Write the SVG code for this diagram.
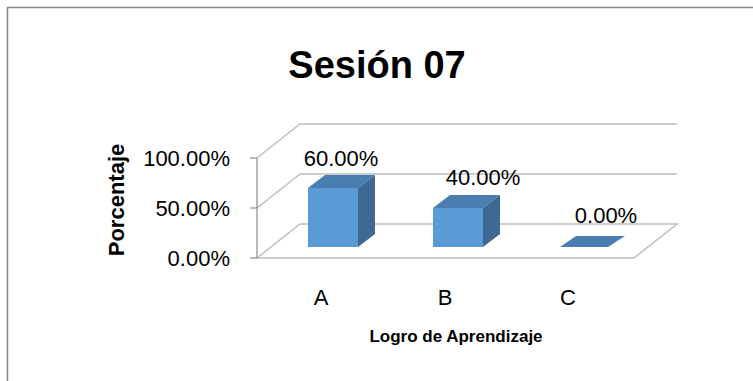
<svg xmlns="http://www.w3.org/2000/svg" width="753" height="381" viewBox="0 0 753 381">
<style>
.grid{stroke:#bfbfbf;stroke-width:1.5;fill:none}
.axis{stroke:#8c8c8c;stroke-width:1.2;fill:none}
.t{font-family:"Liberation Sans",Arial,sans-serif;font-size:22px;fill:#000}
.b{font-family:"Liberation Sans",Arial,sans-serif;font-weight:bold;fill:#000}
.front{fill:#5b9bd5}
.top{fill:#4a7eb0}
.side{fill:#3d6992}
</style>
<rect x="0" y="0" width="753" height="381" fill="#fff"/>
<rect x="7.5" y="7.5" width="800" height="420" fill="#fff" stroke="#868686" stroke-width="1.5"/>
<g id="title"><text class="b" x="377" y="78" font-size="38" text-anchor="middle">Sesión 07</text></g>
<g id="walls">
<polyline class="grid" points="257,158 300,124 677,124"/>
<polyline class="grid" points="257,208 300,174 677,174"/>
<polygon class="grid" points="257,258 300,224 677,224 634,258"/>
<line class="axis" x1="257" y1="158" x2="257" y2="258"/>
<line class="axis" x1="250" y1="158" x2="257" y2="158"/>
<line class="axis" x1="250" y1="208" x2="257" y2="208"/>
<line class="axis" x1="250" y1="258" x2="257" y2="258"/>
</g>
<g id="ylabels">
<text class="t" x="230" y="166" text-anchor="end">100.00%</text>
<text class="t" x="230" y="216" text-anchor="end">50.00%</text>
<text class="t" x="230" y="266" text-anchor="end">0.00%</text>
</g>
<g id="barA">
<polygon class="top" points="308,188 358,188 375,175 325,175"/>
<polygon class="side" points="358,188 375,175 375,234 358,247"/>
<rect class="front" x="308" y="188" width="50" height="59"/>
<text class="t" x="341" y="166" text-anchor="middle">60.00%</text>
</g>
<g id="barB">
<polygon class="top" points="433,208 483,208 500,195 450,195"/>
<polygon class="side" points="483,208 500,195 500,234 483,247"/>
<rect class="front" x="433" y="208" width="50" height="39"/>
<text class="t" x="483" y="185" text-anchor="middle">40.00%</text>
</g>
<g id="barC">
<polygon class="top" points="560,247 608,247 625,236 576,236"/>
<text class="t" x="606" y="223" text-anchor="middle">0.00%</text>
</g>
<g id="xlabels">
<text class="t" x="321" y="305" text-anchor="middle">A</text>
<text class="t" x="445" y="305" text-anchor="middle">B</text>
<text class="t" x="568" y="305" text-anchor="middle">C</text>
</g>
<g id="axistitles">
<text class="b" x="456" y="342" font-size="17" text-anchor="middle">Logro de Aprendizaje</text>
<text class="b" font-size="22" text-anchor="middle" transform="translate(124,200) rotate(-90)">Porcentaje</text>
</g>
</svg>
